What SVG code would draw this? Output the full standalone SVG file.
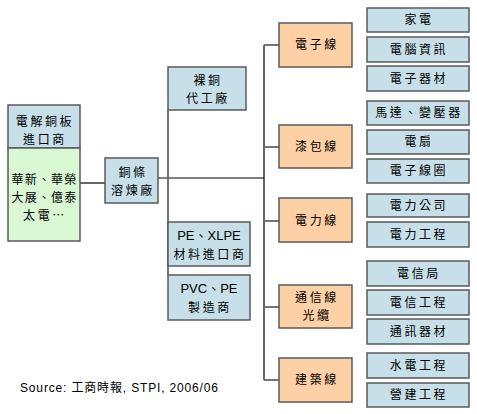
<svg xmlns="http://www.w3.org/2000/svg" width="477" height="414" viewBox="0 0 477 414">
<style>
.b{fill:#c6dfe8;stroke:#5a5a5a;stroke-width:1.5}
.o{fill:#fdd0a6;stroke:#5a5a5a;stroke-width:1.5}
.g{fill:#d9f7d3;stroke:#5a5a5a;stroke-width:1.5}
text{font-family:"Noto Sans CJK TC","Noto Sans CJK SC",sans-serif;font-size:12px;letter-spacing:2.6px;text-anchor:middle;fill:#000}
.l{font-family:"Liberation Sans",Arial,"Noto Sans CJK TC",sans-serif;letter-spacing:0}
.s{letter-spacing:1.2px}
.k{stroke:#000;stroke-width:1.2;fill:none}
.q{stroke:#666;stroke-width:1.8;fill:none}
</style>
<rect width="477" height="414" fill="#fff"/>
<g id="connectors">
<line class="k" x1="80" y1="183" x2="105" y2="183"/>
<line class="k" x1="158" y1="178" x2="264" y2="178"/>
<line class="q" x1="168" y1="110" x2="168" y2="275"/>
<line class="k" x1="264" y1="45" x2="264" y2="380"/>
<line class="q" x1="264" y1="45" x2="279" y2="45"/>
<line class="q" x1="264" y1="147" x2="279" y2="147"/>
<line class="q" x1="264" y1="221" x2="279" y2="221"/>
<line class="q" x1="264" y1="307" x2="279" y2="307"/>
<line class="q" x1="264" y1="380" x2="279" y2="380"/>
</g>
<g id="n-importer">
<rect class="b" x="8" y="105" width="72" height="43"/>
<rect class="g" x="8" y="148" width="72" height="93"/>
<text x="45" y="126">電解銅板</text>
<text x="45" y="144">進口商</text>
<text class="s" x="44.5" y="184">華新、華榮</text>
<text class="s" x="44.5" y="202">大展、億泰</text>
<text x="45" y="220">太電…</text>
</g>
<g id="n-smelter"><rect class="b" x="105" y="158" width="53" height="45"/><text x="133" y="177">銅條</text><text x="133" y="195">溶煉廠</text></g>
<g id="n-bare"><rect class="b" x="168" y="67" width="78" height="43"/><text x="208" y="85">裸銅</text><text x="208" y="103">代工廠</text></g>
<g id="n-pe"><rect class="b" x="168" y="222" width="82" height="44"/><text class="l" x="209" y="240" style="font-size:13px">PE、XLPE</text><text x="210" y="259">材料進口商</text></g>
<g id="n-pvc"><rect class="b" x="168" y="275" width="82" height="45"/><text class="l" x="209" y="293" style="font-size:13px">PVC、PE</text><text x="210" y="312">製造商</text></g>
<g id="n-e"><rect class="o" x="279" y="23" width="73" height="44"/><text x="317" y="49">電子線</text></g>
<g id="n-m"><rect class="o" x="279" y="125" width="73" height="43"/><text x="317" y="151">漆包線</text></g>
<g id="n-p"><rect class="o" x="279" y="198" width="73" height="44"/><text x="317" y="225">電力線</text></g>
<g id="n-t"><rect class="o" x="279" y="285" width="73" height="43"/><text x="317" y="302">通信線</text><text x="317" y="320">光纜</text></g>
<g id="n-c"><rect class="o" x="279" y="358" width="73" height="44"/><text x="317" y="384">建築線</text></g>
<g id="n-r1"><rect class="b" x="367" y="8" width="102" height="24"/><text x="419" y="24">家電</text></g>
<g id="n-r2"><rect class="b" x="367" y="37" width="102" height="25"/><text x="419" y="54">電腦資訊</text></g>
<g id="n-r3"><rect class="b" x="367" y="66" width="102" height="25"/><text x="419" y="83">電子器材</text></g>
<g id="n-r4"><rect class="b" x="367" y="101" width="102" height="24"/><text x="419" y="117">馬達、變壓器</text></g>
<g id="n-r5"><rect class="b" x="367" y="130" width="102" height="24"/><text x="419" y="146">電扇</text></g>
<g id="n-r6"><rect class="b" x="367" y="159" width="102" height="24"/><text x="419" y="175">電子線圈</text></g>
<g id="n-r7"><rect class="b" x="367" y="194" width="102" height="23"/><text x="419" y="210">電力公司</text></g>
<g id="n-r8"><rect class="b" x="367" y="222" width="102" height="25"/><text x="419" y="239">電力工程</text></g>
<g id="n-r9"><rect class="b" x="367" y="261" width="102" height="25"/><text x="419" y="278">電信局</text></g>
<g id="n-r10"><rect class="b" x="367" y="290" width="102" height="25"/><text x="419" y="307">電信工程</text></g>
<g id="n-r11"><rect class="b" x="367" y="319" width="102" height="25"/><text x="419" y="336">通訊器材</text></g>
<g id="n-r12"><rect class="b" x="367" y="353" width="102" height="25"/><text x="419" y="370">水電工程</text></g>
<g id="n-r13"><rect class="b" x="367" y="383" width="102" height="24"/><text x="419" y="399">營建工程</text></g>
<text class="l" x="20" y="392" style="text-anchor:start;font-size:12px" textLength="198">Source: 工商時報, STPI, 2006/06</text>
</svg>
